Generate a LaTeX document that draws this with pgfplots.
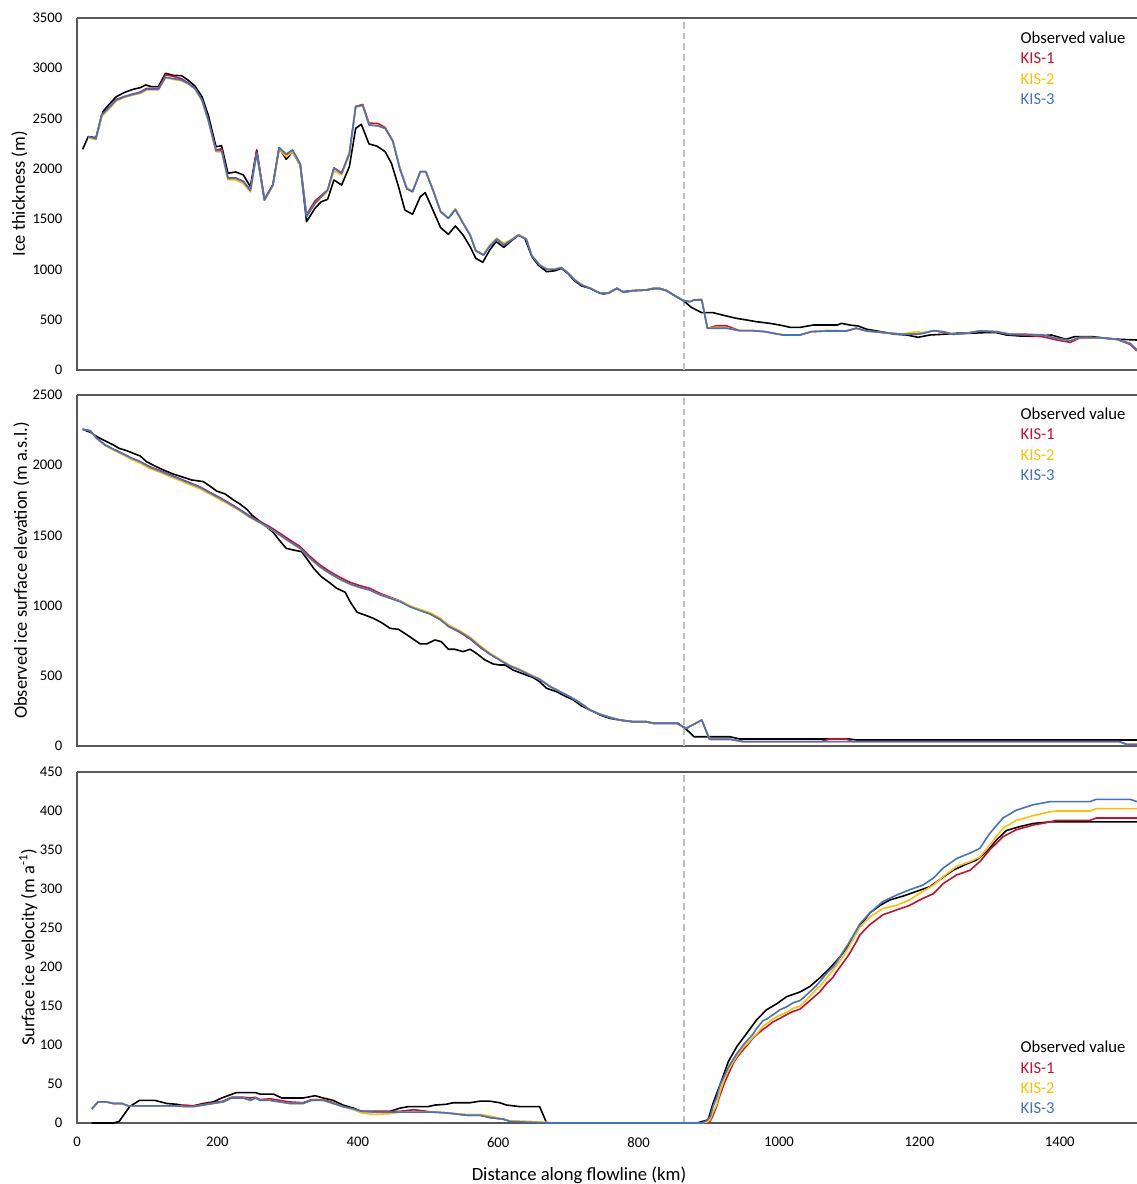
\documentclass[border=0pt]{standalone}
\usepackage{pgfplots}
\pgfplotsset{compat=1.18}
\usepackage{pgfplotstable}
\usepackage{fontspec}
\setmainfont{Carlito}
\definecolor{kisred}{RGB}{200,16,46}
\definecolor{kisorange}{RGB}{255,192,0}
\definecolor{kisblue}{RGB}{68,114,196}
\definecolor{axisgray}{RGB}{89,89,89}
\definecolor{dashgray}{RGB}{191,191,191}

% ---------- Ice thickness ----------
\pgfplotstableread{
x y
8 2194
16 2320
27 2310
37 2568
45 2635
56 2718
68 2761
80 2791
90 2807
98 2834
106 2817
116 2817
126 2950
137 2930
149 2926
158 2883
168 2824
178 2718
187 2535
198 2220
206 2230
215 1956
226 1969
237 1939
247 1823
256 2187
267 1690
279 1839
288 2210
298 2095
307 2171
318 2038
327 1475
339 1608
348 1673
357 1697
366 1889
377 1839
388 2022
397 2403
405 2443
416 2247
427 2227
439 2171
448 2054
458 1823
467 1591
478 1548
489 1723
496 1763
507 1591
518 1415
529 1349
539 1432
550 1342
560 1226
568 1111
578 1071
588 1193
597 1276
608 1220
619 1286
629 1342
638 1309
648 1127
657 1044
669 977
681 987
690 1011
700 955
709 885
719 835
731 812
740 779
750 756
758 769
769 812
777 779
792 789
811 795
821 808
830 812
840 789
852 736
864 689
875 623
890 570
906 570
925 537
939 514
954 497
968 480
987 464
1001 447
1016 424
1030 424
1049 447
1068 447
1083 447
1089 464
1101 447
1113 437
1125 405
1139 388
1153 371
1167 355
1182 348
1198 325
1215 348
1234 355
1253 365
1272 365
1291 371
1310 371
1324 348
1343 338
1362 335
1388 348
1409 305
1421 331
1447 331
1466 315
1485 305
1510 298
}\obsA

\pgfplotstableread{
x k1 k2 k3
16 2320 2310 2320
27 2300 2290 2300
35 2535 2520 2535
45 2605 2590 2602
56 2690 2675 2685
68 2720 2710 2718
80 2745 2735 2741
90 2762 2750 2757
99 2800 2785 2791
116 2800 2785 2791
126 2935 2905 2910
137 2920 2890 2897
149 2895 2875 2883
158 2855 2845 2850
168 2800 2795 2800
178 2690 2680 2685
187 2490 2475 2486
198 2185 2170 2181
206 2200 2170 2181
215 1910 1890 1906
226 1910 1890 1906
237 1875 1855 1873
247 1790 1770 1783
256 2180 2150 2154
267 1700 1690 1690
279 1840 1830 1839
288 2210 2200 2210
298 2140 2120 2147
307 2185 2170 2187
318 2048 2040 2048
327 1545 1530 1524
339 1680 1650 1657
348 1735 1715 1723
357 1790 1775 1790
366 2010 1980 2005
377 1960 1940 1955
388 2155 2140 2154
397 2620 2615 2618
407 2640 2630 2632
416 2455 2440 2436
429 2450 2430 2426
439 2410 2400 2403
450 2280 2275 2270
460 2000 2010 2000
470 1800 1810 1800
478 1773 1780 1773
489 1972 1975 1972
497 1972 1975 1972
507 1790 1795 1790
518 1574 1580 1574
529 1508 1515 1508
539 1597 1605 1597
550 1458 1465 1458
560 1342 1350 1342
568 1186 1190 1186
579 1143 1150 1143
588 1233 1240 1233
598 1303 1310 1303
608 1243 1260 1243
619 1293 1300 1293
629 1342 1345 1342
640 1299 1305 1299
648 1134 1140 1134
659 1044 1050 1044
669 1001 1005 1001
681 1001 1005 1001
690 1017 1020 1017
700 961 965 961
709 895 900 895
719 845 850 845
731 812 815 812
745 763 765 763
757 763 765 763
769 812 812 812
779 772 772 772
792 789 789 789
811 795 795 795
821 812 812 812
830 808 808 808
840 789 789 789
852 736 736 736
864 689 689 689
873 679 679 679
879 696 700 696
890 696 705 696
898 415 420 415
911 440 425 415
925 440 420 415
944 391 391 391
963 391 391 391
980 381 381 381
992 365 365 365
1006 348 348 348
1030 348 348 348
1046 381 381 381
1068 388 395 388
1096 388 390 388
1110 415 410 415
1125 388 388 388
1144 375 375 375
1158 365 365 365
1177 355 360 355
1196 355 380 355
1205 365 370 365
1220 391 391 391
1234 375 381 381
1248 355 355 355
1267 365 365 365
1286 388 388 388
1310 381 381 381
1329 355 355 355
1353 345 355 355
1376 330 348 348
1395 300 315 315
1415 275 292 292
1429 320 325 325
1457 321 321 321
1481 305 305 305
1500 255 265 265
1510 190 199 199
}\modA

% ---------- Surface elevation ----------
\pgfplotstableread{
x y
8 2256
19 2234
30 2199
42 2168
52 2144
60 2120
71 2103
80 2085
90 2066
99 2025
111 1994
123 1966
137 1937
149 1918
163 1895
180 1883
189 1852
199 1816
211 1795
223 1752
232 1724
242 1686
249 1645
261 1598
270 1562
280 1519
288 1467
298 1408
308 1396
320 1384
327 1337
337 1266
348 1206
358 1170
370 1123
382 1095
389 1028
399 952
410 933
422 910
434 878
446 838
458 831
474 778
489 727
498 727
510 755
519 743
529 689
538 689
550 672
560 689
569 660
581 613
593 584
602 577
610 577
621 541
636 513
650 487
659 458
669 411
683 387
695 356
707 328
719 285
731 256
745 221
759 197
773 185
792 173
811 173
821 162
856 162
868 119
879 66
930 66
944 50
1100 50
1110 43
1510 43
}\obsB

\pgfplotstableread{
x k1 k2 k3
8 2256 2256 2256
19 2245 2245 2245
28 2192 2190 2192
40 2144 2140 2144
52 2113 2108 2113
64 2085 2078 2085
78 2049 2040 2049
90 2025 2015 2025
104 1988 1975 1985
118 1962 1950 1959
132 1933 1920 1930
147 1903 1890 1900
161 1874 1860 1871
175 1846 1832 1843
189 1807 1795 1804
204 1767 1755 1764
218 1727 1716 1724
232 1684 1675 1681
246 1638 1628 1633
261 1598 1588 1591
275 1560 1548 1551
289 1515 1500 1503
303 1468 1452 1455
318 1420 1405 1408
332 1350 1335 1337
346 1290 1274 1277
360 1243 1228 1230
375 1200 1185 1187
389 1166 1150 1154
403 1142 1127 1130
417 1123 1110 1111
432 1086 1078 1076
446 1060 1055 1052
460 1034 1032 1028
474 997 998 992
489 968 972 964
503 942 950 940
517 902 912 902
530 850 860 850
545 811 822 814
560 762 775 767
574 704 715 707
588 655 662 655
602 613 618 613
617 568 574 570
631 541 545 541
645 506 510 506
659 475 478 475
674 423 425 423
688 387 389 387
702 351 352 351
716 309 309 309
731 256 256 256
745 226 226 226
759 204 204 204
773 185 185 185
792 173 173 173
811 173 173 173
821 162 162 162
854 162 162 162
868 126 126 126
890 185 185 185
901 48 48 48
930 48 48 48
949 31 31 31
1060 31 31 31
1072 50 31 31
1096 50 31 31
1105 31 31 31
1485 31 31 31
1495 12 12 12
1510 12 12 12
}\modB

% ---------- Surface velocity ----------
\pgfplotstableread{
x y
21 0
52 0
60 2
75 21
89 29
111 29
128 25
142 24
154 22
166 22
180 25
194 27
206 32
218 36
227 39
239 39
254 39
261 37
280 37
292 32
303 32
322 32
339 35
351 32
365 29
379 23
394 19
405 15
446 15
460 19
472 21
500 21
510 23
526 24
536 26
560 26
574 28
588 28
602 26
612 23
631 21
659 21
669 0
883 0
899 4
906 25
916 49
928 79
940 98
954 115
968 132
982 145
997 153
1011 162
1030 168
1044 175
1058 186
1072 198
1087 213
1101 230
1115 252
1129 269
1144 279
1158 286
1177 291
1196 297
1215 303
1232 314
1248 324
1267 332
1281 337
1296 348
1310 363
1324 375
1343 380
1362 384
1386 386
1510 386
}\obsC

\pgfplotstableread{
x k1 k2 k3
21 18 18 18
30 27 27 27
42 27 27 27
52 25 25 25
64 25 25 25
73 22 22 22
90 22 22 22
142 22 22 22
154 23 21 21
166 22 21 21
180 24 23 23
194 26 25 25
208 28 27 27
220 33 32 32
237 33 32 32
247 32 29 29
254 33 32 32
261 30 29 29
275 31 29 29
289 29 27 27
303 27 25 25
322 26 25 25
334 30 29 29
351 30 29 29
365 26 25 25
379 21 21 21
394 18 17 18
405 15 13 15
422 15 11 14
446 15 12 14
460 15 14 14
480 17 14 14
507 14 14 14
526 13 13 13
555 10 11 10
574 10 11 10
588 7 9 7
607 5 5 5
617 2 3 2
645 1 2 1
669 0 1 0
683 0 0 0
890 0 0 0
897 0 1 3
902 2 4 8
906 10 14 21
911 21 23 32
916 36 40 49
923 53 58 62
928 63 68 72
935 77 79 82
940 84 86 89
949 94 97 100
954 99 101 105
963 109 110 114
968 113 114 121
977 120 124 131
982 123 127 133
992 130 134 139
1001 134 138 145
1011 139 142 149
1020 143 147 154
1030 146 150 157
1039 153 158 164
1053 164 171 176
1058 168 175 181
1068 179 186 192
1077 187 196 200
1082 194 202 206
1091 205 213 219
1099 215 225 230
1110 232 243 247
1115 241 251 255
1129 254 264 269
1148 267 275 284
1167 273 279 292
1186 279 286 299
1205 288 297 305
1220 294 305 314
1234 307 316 327
1253 318 329 339
1272 324 335 346
1286 335 341 352
1300 350 356 371
1319 367 378 391
1338 376 388 401
1362 382 394 408
1386 386 399 412
1395 388 400 412
1443 388 400 412
1452 391 403 415
1500 391 403 415
1510 391 403 412
}\modC

\pgfplotsset{
  panel/.style={
    scale only axis, width=795pt, height=263.25pt,
    xmin=0, xmax=1510, ymin=0,
    clip=false,
    axis line style={draw=none},
    tick style={draw=none},
    major tick length=0pt,
    every axis y label/.style={at={(axis description cs:-0.054,0.5)}, rotate=90, anchor=center,
      font=\fontsize{13.8}{16}\selectfont},
    yticklabel style={font=\fontsize{11}{13}\selectfont, xshift=-7.5pt},
    xticklabel style={font=\fontsize{11}{13}\selectfont, yshift=-7.2pt},
    /pgf/number format/assume math mode=true,
    /pgf/number format/1000 sep={},
    every axis plot/.append style={line width=1.2pt, line join=round},
  },
}
\tikzset{
  frame/.style={axisgray, line width=0.9pt},
  legtxt/.style={anchor=west, inner sep=0pt, font=\fontsize{12.5}{15}\selectfont},
}

\begin{document}
\begin{tikzpicture}
\useasboundingbox (0,0) rectangle (852.75pt,888pt);

% ----- top panel -----
\begin{axis}[panel, at={(57.75pt,610.5pt)}, anchor=south west,
  height=264pt, ymax=3500, ytick={0,500,...,3500}, xtick=\empty,
  ylabel={Ice thickness (m)},
  ylabel style={at={(axis description cs:-0.0544,0.5)}}]
  \draw[frame] (rel axis cs:0,1) -- (rel axis cs:0,0) -- (rel axis cs:1,0);
  \draw[frame] (rel axis cs:0,1) -- (rel axis cs:1,1);
  \addplot[dashgray, line width=1.1pt, dash pattern=on 5pt off 3pt] coordinates {(865,0) (865,3500)};
  \addplot[black] table[x=x,y=y] {\obsA};
  \addplot[kisred] table[x=x,y=k1] {\modA};
  \addplot[kisorange] table[x=x,y=k2] {\modA};
  \addplot[kisblue] table[x=x,y=k3] {\modA};
  \node[legtxt, text=black] at (rel axis cs:0.890,0.944) {Observed value};
  \node[legtxt, text=kisred] at (rel axis cs:0.890,0.886) {KIS-1};
  \node[legtxt, text=kisorange] at (rel axis cs:0.890,0.827) {KIS-2};
  \node[legtxt, text=kisblue] at (rel axis cs:0.890,0.770) {KIS-3};
\end{axis}

% ----- middle panel -----
\begin{axis}[panel, at={(57.75pt,328.5pt)}, anchor=south west,
  ymax=2500, ytick={0,500,...,2500}, xtick=\empty,
  ylabel={Observed ice surface elevation (m a.s.l.)},
  ylabel style={at={(axis description cs:-0.0525,0.5)}}]
  \draw[frame] (rel axis cs:0,1) -- (rel axis cs:0,0) -- (rel axis cs:1,0);
  \draw[frame] (rel axis cs:0,1) -- (rel axis cs:1,1);
  \addplot[dashgray, line width=1.1pt, dash pattern=on 5pt off 3pt] coordinates {(865,0) (865,2500)};
  \addplot[black] table[x=x,y=y] {\obsB};
  \addplot[kisred] table[x=x,y=k1] {\modB};
  \addplot[kisorange] table[x=x,y=k2] {\modB};
  \addplot[kisblue] table[x=x,y=k3] {\modB};
  \node[legtxt, text=black] at (rel axis cs:0.890,0.946) {Observed value};
  \node[legtxt, text=kisred] at (rel axis cs:0.890,0.888) {KIS-1};
  \node[legtxt, text=kisorange] at (rel axis cs:0.890,0.830) {KIS-2};
  \node[legtxt, text=kisblue] at (rel axis cs:0.890,0.772) {KIS-3};
\end{axis}

% ----- bottom panel -----
\begin{axis}[panel, at={(57.75pt,45.75pt)}, anchor=south west,
  ymax=450, ytick={0,50,...,450}, xtick={0,200,...,1400},
  ylabel={Surface ice velocity (m a\textsuperscript{-1})},
  ylabel style={at={(axis description cs:-0.046,0.5)}},
  xlabel={Distance along flowline (km)},
  xlabel style={at={(axis description cs:0.4736,-0.148)}, anchor=center,
    font=\fontsize{14}{16}\selectfont}]
  \draw[frame] (rel axis cs:0,1) -- (rel axis cs:0,0) -- (rel axis cs:1,0);
  \draw[frame] (rel axis cs:0,1) -- (rel axis cs:1,1);
  \addplot[dashgray, line width=1.1pt, dash pattern=on 5pt off 3pt] coordinates {(865,0) (865,450)};
  \addplot[black] table[x=x,y=y] {\obsC};
  \addplot[kisred] table[x=x,y=k1] {\modC};
  \addplot[kisorange] table[x=x,y=k2] {\modC};
  \addplot[kisblue] table[x=x,y=k3] {\modC};
  \node[legtxt, text=black] at (rel axis cs:0.890,0.216) {Observed value};
  \node[legtxt, text=kisred] at (rel axis cs:0.890,0.157) {KIS-1};
  \node[legtxt, text=kisorange] at (rel axis cs:0.890,0.099) {KIS-2};
  \node[legtxt, text=kisblue] at (rel axis cs:0.890,0.041) {KIS-3};
\end{axis}
\end{tikzpicture}
\end{document}
